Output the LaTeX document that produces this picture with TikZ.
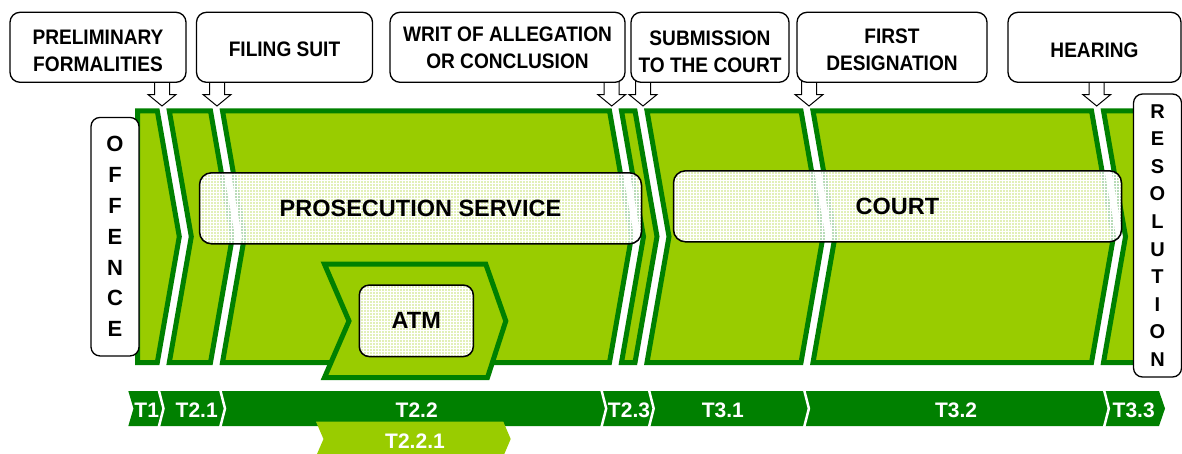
\documentclass[tikz,border=0pt]{standalone}
\usepackage{fontspec}
\setmainfont{Liberation Sans}
\newfontfamily\tabfont{Liberation Sans}[FakeStretch=0.91]
\usetikzlibrary{patterns}
\definecolor{bandgreen}{RGB}{153,204,0}
\definecolor{edgegreen}{RGB}{0,128,0}

% one chevron stage of the main band: left top x, right top x
\newcommand\stagepiece[2]{%
  \path[stagefill] (#1,110.8) -- (#2,110.8) -- (#2+22,236.6) -- (#2,362.5)
    -- (#1,362.5) -- (#1+22,236.6) -- cycle;}
% hollow marker arrow under a milestone tab, tip at x
\newcommand\markerarrow[1]{%
  \draw[markarrow] (#1-7.5,78) -- (#1-7.5,94.5) -- (#1-14,94.5) -- (#1,106)
    -- (#1+14,94.5) -- (#1+7.5,94.5) -- (#1+7.5,78) -- cycle;}
% white chevron divider in the time bar
\newcommand\timesep[1]{%
  \draw[sepline] (#1,389) -- (#1+5,408.5) -- (#1,428);}

\tikzset{
  x=1pt, y=-1pt,
  stagefill/.style={fill=bandgreen, draw=edgegreen, line width=5pt, line join=miter},
  markarrow/.style={draw=black, fill=white, line width=1pt, line join=miter},
  tab/.style={draw, line width=1.3pt, fill=white, rounded corners=10pt,
    minimum height=70pt, inner sep=0pt},
  tabtext/.style={align=center, inner sep=0pt,
    font=\tabfont\bfseries\fontsize{21}{27}\selectfont},
  endbox/.style={draw, line width=1.3pt, fill=white, rounded corners=9pt,
    minimum width=48pt, align=center, inner sep=0pt},
  actor/.style={draw, line width=1.5pt, rounded corners=12pt, inner sep=0pt,
    preaction={fill=white, fill opacity=0.72},
    pattern=grid, pattern color=white,
    font=\bfseries\fontsize{23.5}{28}\selectfont},
  sepline/.style={draw=white, line width=2.5pt, line join=miter},
  timelabel/.style={text=white, inner sep=0pt, font=\bfseries\fontsize{21}{25}\selectfont}
}

\begin{document}
\begin{tikzpicture}
\useasboundingbox (0,0) rectangle (1182,453);
\clip (0,0) rectangle (1182,453);

% milestone markers
\foreach \t in {162,217,611.7,643,809,1096.7} {\markerarrow{\t}}

% milestone tabs
\node[tab, minimum width=176pt] (prelim) at (98,47.3) {};
\node[tab, minimum width=176pt] (filing) at (284.5,47.3) {};
\node[tab, minimum width=235pt] (writ) at (507.5,47.3) {};
\node[tab, minimum width=158pt] (submission) at (710,47.3) {};
\node[tab, minimum width=190pt] (designation) at (892,47.3) {};
\node[tab, minimum width=173pt] (hearing) at (1094.5,47.3) {};

\node[tabtext] (prelimtext) at ([yshift=-4pt]prelim.center) {PRELIMINARY\\FORMALITIES};
\node[tabtext] (filingtext) at ([yshift=-1.5pt]filing.center) {FILING SUIT};
\node[tabtext] (writtext) at ([yshift=-0.5pt]writ.center) {WRIT OF ALLEGATION\\OR CONCLUSION};
\node[tabtext] (submissiontext) at ([yshift=-4pt]submission.center) {SUBMISSION\\TO THE COURT};
\node[tabtext] (designationtext) at ([yshift=-2pt]designation.center) {FIRST\\DESIGNATION};
\node[tabtext] (hearingtext) at ([yshift=-2.5pt]hearing.center) {HEARING};

% main band of stages
\path[stagefill] (137.5,110.8) -- (157.3,110.8) -- (179.3,236.6) -- (157.3,362.5)
  -- (137.5,362.5) -- cycle;
\stagepiece{169.3}{210.5}
\stagepiece{222.5}{609.5}
\stagepiece{621.5}{635}
\stagepiece{647}{801}
\stagepiece{813}{1091.5}
\path[stagefill] (1103.5,110.8) -- (1142,110.8) -- (1142,362.5) -- (1103.5,362.5)
  -- (1125.5,236.6) -- cycle;

% ATM sub-stage
\path[stagefill] (324.5,264.2) -- (485.8,264.2) -- (505.8,321) -- (487.5,377.5)
  -- (324.5,377.5) -- (349,321) -- cycle;

% actors
\node[actor, minimum width=442pt, minimum height=71pt] (prosecution) at (420.5,208.3) {PROSECUTION SERVICE};
\node[actor, minimum width=448pt, minimum height=71pt] (court) at (897.5,206.3) {COURT};
\node[actor, rounded corners=10pt, minimum width=114pt, minimum height=71.5pt] (atm) at (416.3,320.8) {ATM};

% start and end of the procedure
\node[endbox, minimum height=238.5pt, font=\bfseries\fontsize{22}{30.8}\selectfont] (offence) at (115,236.7)
  {O\\F\\F\\E\\N\\C\\E};
\node[endbox, minimum height=283pt, font=\bfseries\fontsize{20}{27.6}\selectfont] (resolution) at (1157.5,235.5)
  {R\\E\\S\\O\\L\\U\\T\\I\\O\\N};

% time bar
\path[fill=edgegreen] (128.3,391) -- (1159,391) -- (1165,408.5) -- (1159,426)
  -- (128.3,426) -- (133.5,408.5) -- cycle;
\foreach \s in {158.5,220,601.2,648.7,803.9,1103.8} {\timesep{\s}}
\path[fill=bandgreen] (316,421.7) -- (503.3,421.7) -- (510.7,439) -- (503.3,456.3)
  -- (316,456.3) -- (323.5,439) -- cycle;

\node[timelabel] (t1) at (146.7,410.5) {T1};
\node[timelabel] (t21) at (196.7,410.5) {T2.1};
\node[timelabel] (t22) at (416.7,410.5) {T2.2};
\node[timelabel] (t23) at (629,410.5) {T2.3};
\node[timelabel] (t31) at (722.8,410.5) {T3.1};
\node[timelabel] (t32) at (956,410.5) {T3.2};
\node[timelabel] (t33) at (1133.7,410.5) {T3.3};
\node[timelabel] (t221) at (415,440.8) {T2.2.1};
\end{tikzpicture}
\end{document}
